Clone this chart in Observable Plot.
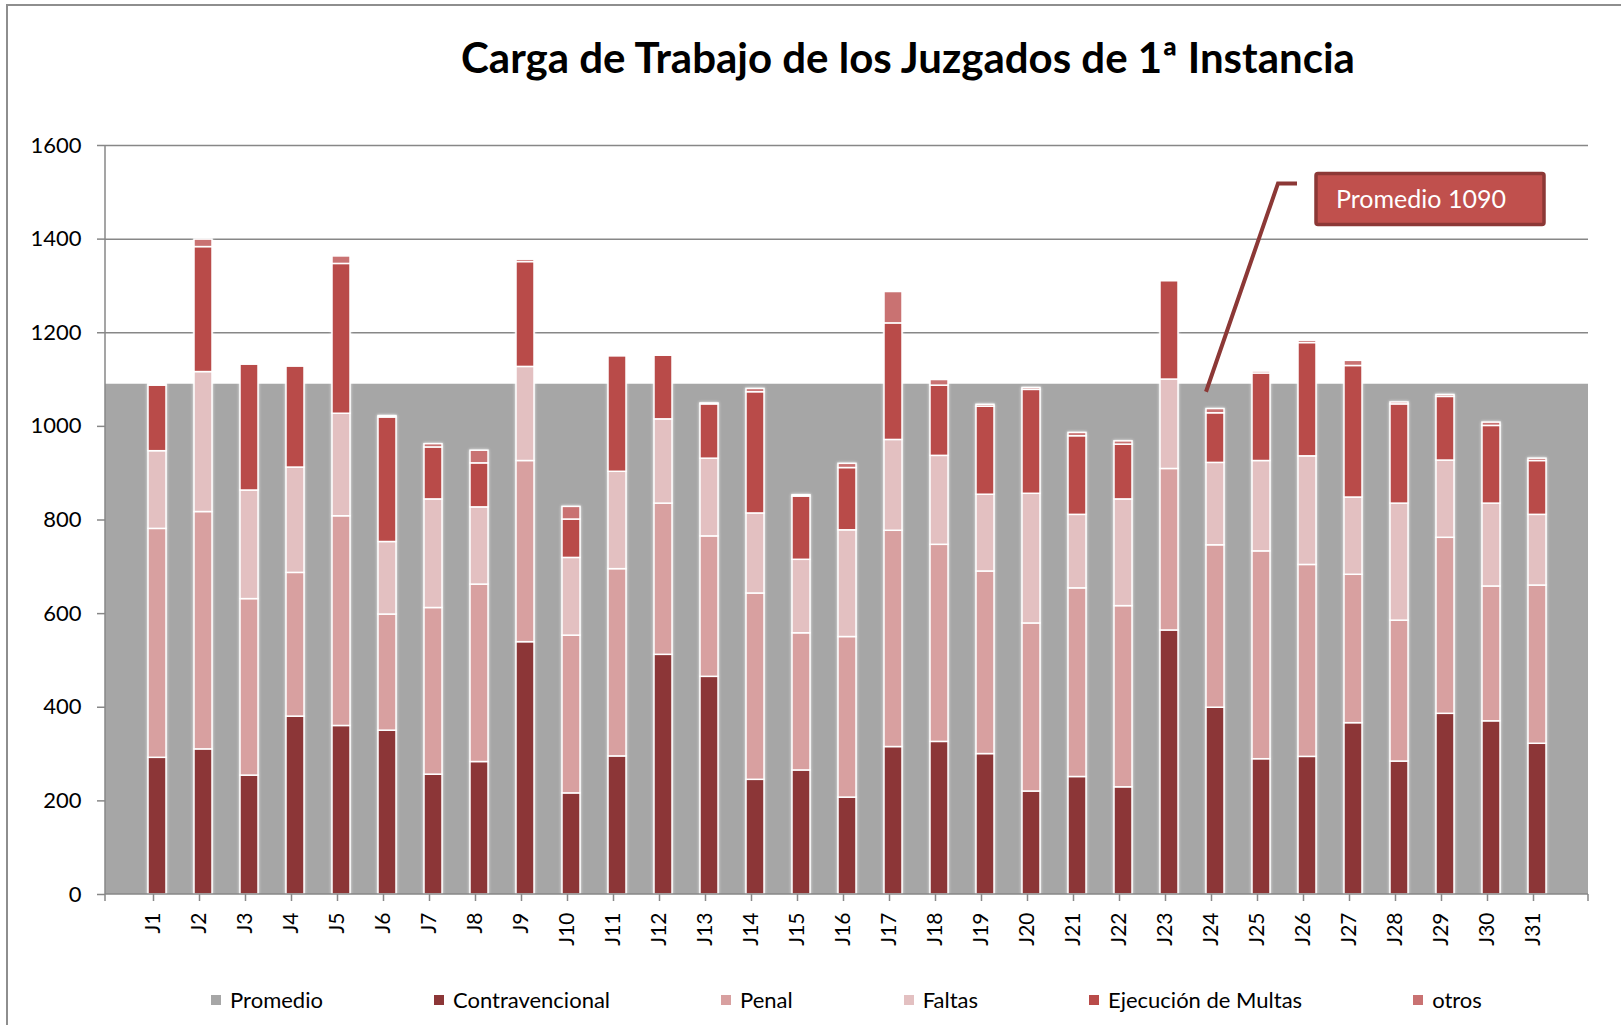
<!DOCTYPE html>
<html>
<head>
<meta charset="utf-8">
<script src="https://cdn.jsdelivr.net/npm/d3@7"></script>
<script src="https://cdn.jsdelivr.net/npm/@observablehq/plot@0.6"></script>
<style>
  html, body { margin: 0; padding: 0; background: #fff; }
  body { width: 1621px; height: 1025px; overflow: hidden; position: relative; font-family: Lato, "Open Sans", sans-serif; }
  #frame { position: absolute; left: 6px; top: 4px; width: 1700px; height: 1100px; border-left: 2px solid #8e8e8e; border-top: 2px solid #8e8e8e; }
  #title { position: absolute; left: 0; width: 1816px; top: 36px; text-align: center; font-weight: 700; font-size: 42px; line-height: 42px; color: #000; white-space: nowrap; }
  #chart { position: absolute; left: 0; top: 0; }
  #legend { position: absolute; left: 105px; width: 1483px; top: 989px; display: flex; justify-content: center; gap: 111px; font-size: 22px; line-height: 22px; color: #000; }
  .item { display: flex; align-items: center; white-space: nowrap; }
  .sw { width: 10px; height: 10px; margin-right: 9px; }
  g[aria-label="bar"] { filter: drop-shadow(0 0 1.5px rgba(255,255,255,0.8)); }
</style>
</head>
<body>
<div id="frame"></div>
<div id="title">Carga de Trabajo de los Juzgados de 1ª Instancia</div>
<div id="chart"></div>
<div id="legend"></div>
<script>
// ---- data ----
const juzgados = ["J1","J2","J3","J4","J5","J6","J7","J8","J9","J10","J11","J12","J13","J14","J15","J16",
                  "J17","J18","J19","J20","J21","J22","J23","J24","J25","J26","J27","J28","J29","J30","J31"];
const contravencional = [292,310,254,380,360,350,256,283,539,216,295,512,465,245,265,207,315,326,300,220,251,229,564,399,289,294,366,284,386,370,322];
const penal           = [489,507,377,307,448,248,356,379,387,337,400,323,300,398,293,343,462,421,390,359,403,387,345,347,444,410,317,301,376,288,338];
const faltas          = [166,299,232,225,219,155,232,165,201,166,208,180,166,171,157,228,194,190,164,277,157,228,191,176,193,232,165,250,165,177,151];
const ejecucion       = [140,267,269,216,320,266,111, 94,224, 82,247,136,116,259,135,133,249,150,188,222,168,117,210,106,187,242,281,212,136,166,115];
const otros           = [  3, 16,  2,  3, 16,  3,  7, 27,  5, 27,  2,  2,  2,  7,  3,  9, 67, 12,  4,  4,  7,  7,  0,  9,  4,  5, 11,  4,  4,  7,  5];
const promedio = 1090;
const yTicks = [0,200,400,600,800,1000,1200,1400,1600];
const seriesNames = ["Contravencional","Penal","Faltas","Ejecución de Multas","otros"];
const seriesColors = ["#8c3637","#d8a0a0","#e3c0c1","#b94b49","#c97272"];
const promedioName = "Promedio";
const promedioColor = "#a6a6a6";

const seriesValues = [contravencional, penal, faltas, ejecucion, otros];
const table = juzgados.flatMap((j, i) =>
  seriesNames.map((s, k) => ({juzgado: j, serie: s, valor: seriesValues[k][i]})));

const gridColor = "#878787";

// axis lines (domain lines + end ticks)
function axisLines(index, scales, values, dims) {
  const y = scales.y;
  const g = d3.create("svg:g").attr("stroke", gridColor).attr("stroke-width", 1.5).attr("fill", "none");
  const x0 = dims.marginLeft, x1 = dims.width - dims.marginRight;
  const y0 = y(0), yTop = y(yTicks[yTicks.length - 1]);
  g.append("line").attr("x1", x0).attr("x2", x0).attr("y1", y0 + 7).attr("y2", yTop);
  g.append("line").attr("x1", x0).attr("x2", x1).attr("y1", y0).attr("y2", y0);
  g.append("line").attr("x1", x1).attr("x2", x1).attr("y1", y0).attr("y2", y0 + 7);
  return g.node();
}

// callout "Promedio 1090"
function callout(index, scales, values, dims) {
  const {x, y} = scales;
  const step = x(juzgados[1]) - x(juzgados[0]);
  const bw = typeof x.bandwidth === "number" ? x.bandwidth
           : typeof x.bandwidth === "function" ? x.bandwidth() : step * 0.39;
  const xc = j => x(j) + bw / 2;
  const right = dims.width - dims.marginRight;
  const g = d3.create("svg:g");
  const ax = xc("J24") - 9, ay = y(promedio) + 8;
  const ex = right - 310, ey = y(1518);
  g.append("polyline")
    .attr("points", `${ax},${ay} ${ex},${ey} ${ex + 19},${ey}`)
    .attr("fill", "none").attr("stroke", "#8c3836").attr("stroke-width", 4);
  const bx = right - 272, by = y(1539), bwid = 228, bh = y(1430) - y(1539);
  g.append("rect").attr("x", bx).attr("y", by).attr("width", bwid).attr("height", bh)
    .attr("rx", 2).attr("fill", "#c0504d").attr("stroke", "#8c3836").attr("stroke-width", 3.5);
  g.append("text").attr("x", bx + 20).attr("y", by + bh / 2).attr("dy", "0.36em")
    .attr("text-anchor", "start")
    .attr("fill", "white").attr("font-size", 25).attr("font-family", "Lato, sans-serif")
    .text(`${promedioName} ${promedio}`);
  return g.node();
}

const chart = Plot.plot({
  width: 1621,
  height: 960,
  marginLeft: 105,
  marginRight: 33,
  marginTop: 145,
  marginBottom: 66,
  style: {fontFamily: "Lato, sans-serif", fontSize: "21px", color: "#000", background: "transparent", overflow: "visible"},
  x: {type: "band", domain: juzgados, paddingInner: 0.61, paddingOuter: 0.805, label: null},
  y: {domain: [0, 1600], label: null},
  color: {domain: seriesNames, range: seriesColors},
  marks: [
    Plot.ruleY(yTicks.filter(v => v > 0), {stroke: gridColor, strokeWidth: 1.5}),
    Plot.rectY([promedio], {y: d => d, fill: promedioColor}),
    Plot.barY(table, {x: "juzgado", y: "valor", fill: "serie", stroke: "white", strokeWidth: 1.5}),
    Plot.axisY({ticks: yTicks, tickFormat: d => String(d), tickSize: 8, tickPadding: 16, stroke: gridColor, strokeWidth: 1.5, fill: "#000", fontSize: 22, label: null}),
    Plot.axisX({tickSize: 7, tickPadding: 11, tickRotate: -90, dx: -4, stroke: gridColor, strokeWidth: 1.5, fill: "#000", fontSize: 21, label: null}),
    axisLines,
    callout
  ]
});
document.getElementById("chart").appendChild(chart);

// legend
const legend = document.getElementById("legend");
[[promedioName, promedioColor], ...seriesNames.map((s, k) => [s, seriesColors[k]])].forEach(([name, col]) => {
  const it = document.createElement("div");
  it.className = "item";
  it.innerHTML = `<span class="sw" style="background:${col}"></span><span>${name}</span>`;
  legend.appendChild(it);
});
</script>
</body>
</html>
